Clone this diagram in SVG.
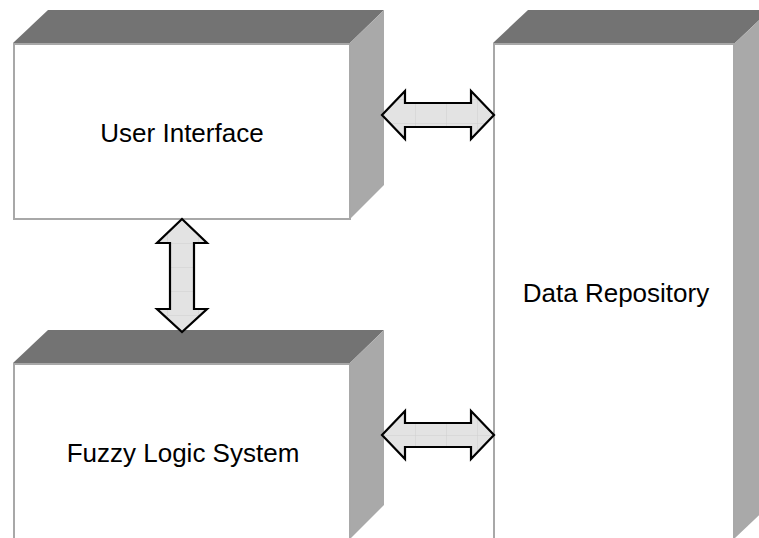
<svg xmlns="http://www.w3.org/2000/svg" width="759" height="538" viewBox="0 0 759 538">
  <style>
    .top { fill: #737373; }
    .side { fill: #a9a9a9; }
    .front { fill: #ffffff; stroke: #a8a8a8; stroke-width: 2; }
    .label { font-family: "Liberation Sans", Arial, sans-serif; font-size: 26px; fill: #000000; text-anchor: middle; }
    .arrow { fill: url(#grid); stroke: #000000; stroke-width: 2.2; stroke-linejoin: miter; }
  </style>
  <defs>
    <pattern id="grid" width="31" height="24" patternUnits="userSpaceOnUse" x="12" y="3">
      <rect width="31" height="24" fill="#e3e3e3"/>
      <path d="M0 0H31M0 0V24" stroke="#d0d0d0" stroke-width="1" fill="none"/>
    </pattern>
  </defs>
  <rect width="759" height="538" fill="#ffffff"/>

  <g id="user-interface">
    <polygon class="top" points="13,43 48,10 384,10 350,43"/>
    <polygon class="side" points="350,43 384,10 384,185 350,219"/>
    <rect class="front" x="14" y="44" width="336" height="175"/>
    <text class="label" x="182" y="142">User Interface</text>
  </g>

  <g id="fuzzy-logic-system">
    <polygon class="top" points="13,363 48,330 384,330 350,363"/>
    <polygon class="side" points="350,363 384,330 384,505 350,539"/>
    <rect class="front" x="14" y="364" width="336" height="176"/>
    <text class="label" x="183" y="462">Fuzzy Logic System</text>
  </g>

  <g id="data-repository">
    <polygon class="top" points="493,43 528,10 770,10 735,43"/>
    <polygon class="side" points="735,43 770,10 770,505 735,538"/>
    <rect class="front" x="494" y="44" width="240" height="496"/>
    <text class="label" x="616" y="302">Data Repository</text>
  </g>

  <g id="connectors">
    <polygon class="arrow" points="382,115 405,91 405,103 471,103 471,91 494,115 471,139 471,127 405,127 405,139"/>
    <polygon class="arrow" points="382,435 405,411 405,423 471,423 471,411 494,435 471,459 471,447 405,447 405,459"/>
    <polygon class="arrow" points="182,219 207,243 194,243 194,309 207,309 182,332 157,309 170,309 170,243 157,243"/>
  </g>
</svg>
